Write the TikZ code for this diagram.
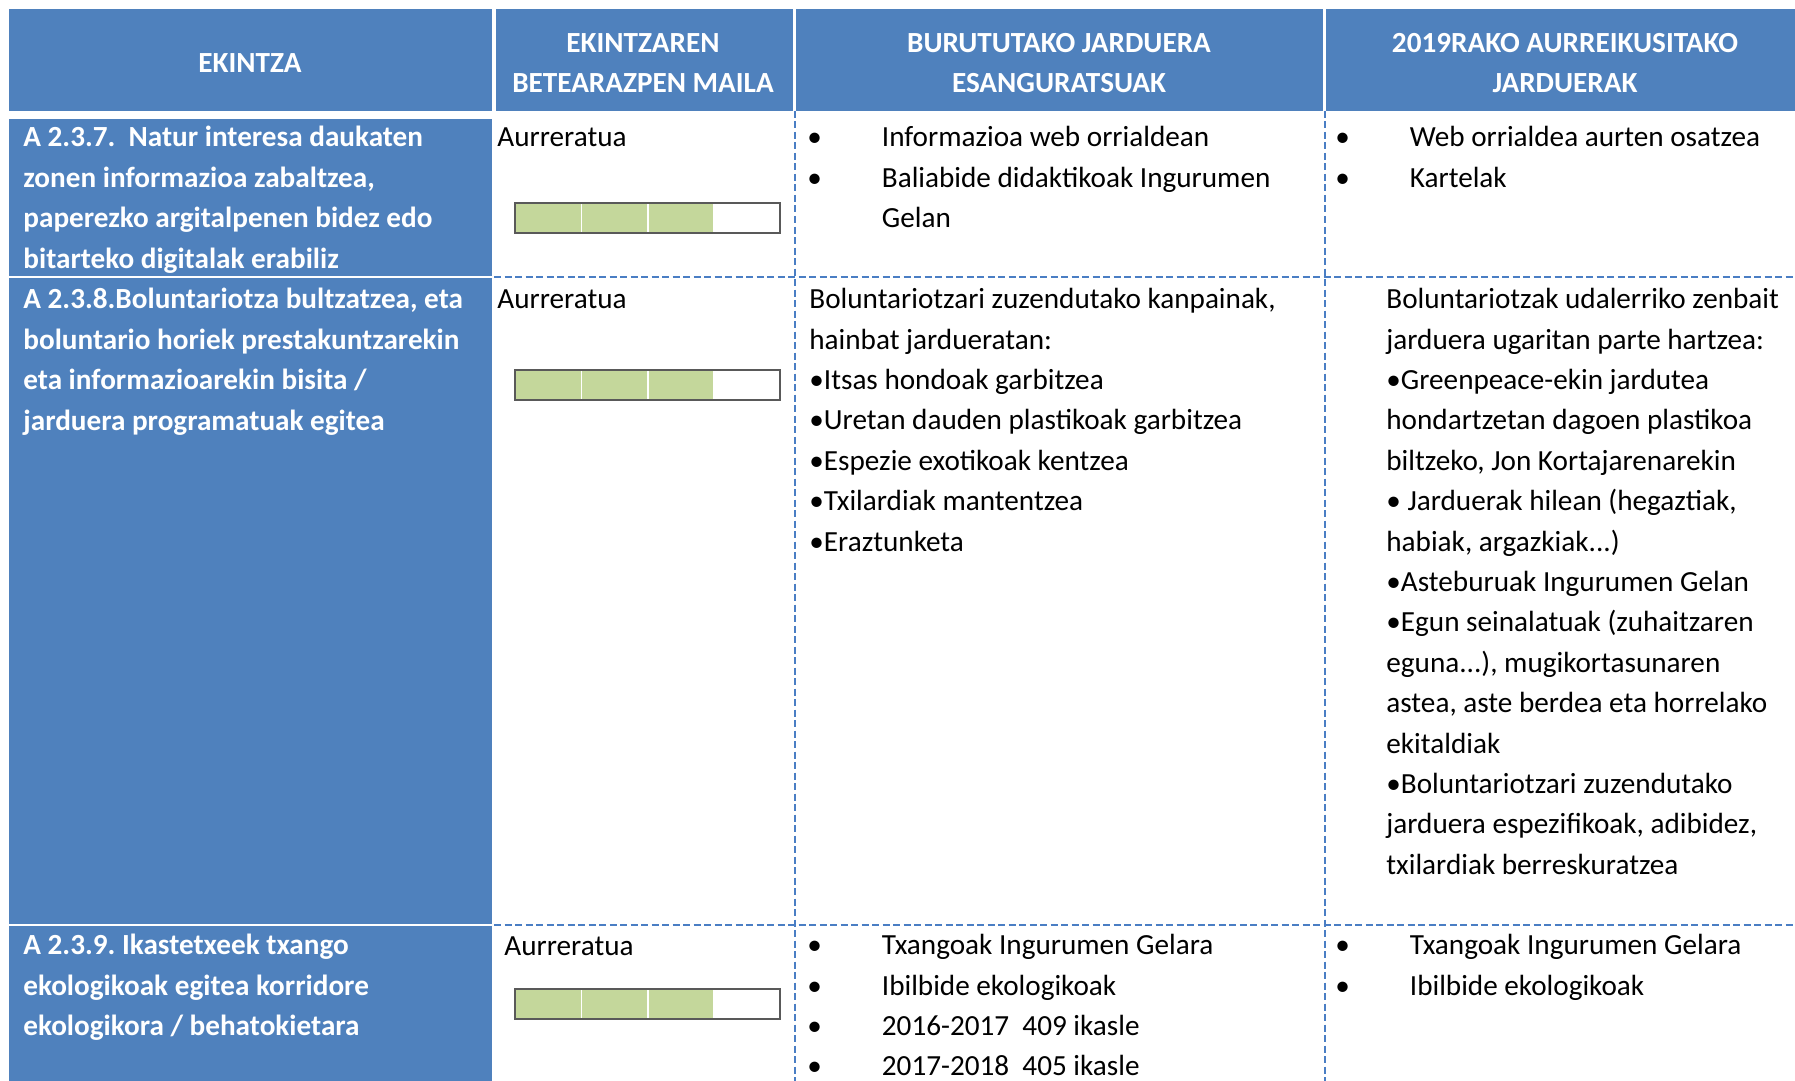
\documentclass[tikz,border=0pt]{standalone}
\usepackage{fontspec}
\setmainfont{Carlito}
\frenchspacing
\definecolor{hdrblue}{HTML}{4F81BD}
\definecolor{linblue}{HTML}{4A7EC4}
\definecolor{bargreen}{HTML}{C4D79B}
\definecolor{bargray}{HTML}{595959}
\newcommand\bul{\makebox[37.25pt][l]{•}}
\begin{document}
\begin{tikzpicture}[x=0.5pt,y=-0.5pt,
    txt/.style={anchor=north west,inner sep=0pt,align=left,execute at begin node=\strut,font=\fontsize{14.6}{20.2}\selectfont},
    lft/.style={txt,text=white,font=\bfseries\fontsize{14.6}{20.2}\selectfont},
    hdr/.style={anchor=center,inner sep=0pt,align=center,text=white,font=\bfseries\fontsize{14.6}{20.2}\selectfont},
    gridline/.style={draw=linblue,line width=1pt,dash pattern=on 3.5pt off 1.75pt}]
        \useasboundingbox (0,0) rectangle (1795,1081);
        \fill[white] (0,0) rectangle (1795,1081);

        \fill[hdrblue] (9,9) rectangle (492,111);
        \fill[hdrblue] (496,9) rectangle (793,111);
        \fill[hdrblue] (796,9) rectangle (1323,111);
        \fill[hdrblue] (1326,9) rectangle (1795,111);
        \fill[hdrblue] (9,119) rectangle (492,276);
        \fill[hdrblue] (9,278) rectangle (492,924);
        \fill[hdrblue] (9,926) rectangle (492,1081);

        \draw[gridline] (494,277) -- (1795,277);
        \draw[gridline] (494,925) -- (1795,925);
        \draw[gridline] (794.5,111) -- (794.5,1081);
        \draw[gridline] (1324.5,111) -- (1324.5,1081);

        \node[hdr] (h1) at (250,63) {EKINTZA};
        \node[hdr] (h2) at (643,63) {EKINTZAREN\\BETEARAZPEN MAILA};
        \node[hdr] (h3) at (1059,63) {BURUTUTAKO JARDUERA\\ESANGURATSUAK};
        \node[hdr] (h4) at (1565,63) {2019RAKO AURREIKUSITAKO\\JARDUERAK};

        \node[lft] (a1) at (23,126) {A 2.3.7.\ \ Natur interesa daukaten\\zonen informazioa zabaltzea,\\paperezko argitalpenen bidez edo\\bitarteko digitalak erabiliz};
        \node[lft] (a2) at (23,288) {A 2.3.8.Boluntariotza bultzatzea, eta\\boluntario horiek prestakuntzarekin\\eta informazioarekin bisita /\\jarduera programatuak egitea};
        \node[lft] (a3) at (23,934) {A 2.3.9. Ikastetxeek txango\\ekologikoak egitea korridore\\ekologikora / behatokietara};

        \node[txt] (m1) at (497,118) {Aurreratua};
        \node[txt] (m2) at (497,280) {Aurreratua};
        \node[txt] (m3) at (504,927) {Aurreratua};

        \foreach \by in {203,370,989} {
            \fill[bargreen] (515,\by) rectangle (713,\by+30);
            \draw[white,line width=0.8pt] (581.4,\by) -- (581.4,\by+30);
            \draw[white,line width=0.8pt] (647.8,\by) -- (647.8,\by+30);
            \draw[bargray,line width=0.6pt] (515,\by) rectangle (780,\by+30);
        }

        \node[txt] (b1) at (807,126) {\bul Informazioa web orrialdean\\\bul Baliabide didaktikoak Ingurumen\\\hspace*{37.25pt}Gelan};
        \node[txt] (b2) at (809,288) {Boluntariotzari zuzendutako kanpainak,\\hainbat jardueratan:\\•Itsas hondoak garbitzea\\•Uretan dauden plastikoak garbitzea\\•Espezie exotikoak kentzea\\•Txilardiak mantentzea\\•Eraztunketa};
        \node[txt] (b3) at (807,934) {\bul Txangoak Ingurumen Gelara\\\bul Ibilbide ekologikoak\\\bul 2016-2017\ \ 409 ikasle\\\bul 2017-2018\ \ 405 ikasle};

        \node[txt] (p1) at (1335,126) {\bul Web orrialdea aurten osatzea\\\bul Kartelak};
        \node[txt] (p2) at (1386,288) {Boluntariotzak udalerriko zenbait\\jarduera ugaritan parte hartzea:\\•Greenpeace-ekin jardutea\\hondartzetan dagoen plastikoa\\biltzeko, Jon Kortajarenarekin\\• Jarduerak hilean (hegaztiak,\\habiak, argazkiak...)\\•Asteburuak Ingurumen Gelan\\•Egun seinalatuak (zuhaitzaren\\eguna...), mugikortasunaren\\astea, aste berdea eta horrelako\\ekitaldiak\\•Boluntariotzari zuzendutako\\jarduera espezifikoak, adibidez,\\txilardiak berreskuratzea};
        \node[txt] (p3) at (1335,934) {\bul Txangoak Ingurumen Gelara\\\bul Ibilbide ekologikoak};
    \end{tikzpicture}
\end{document}
